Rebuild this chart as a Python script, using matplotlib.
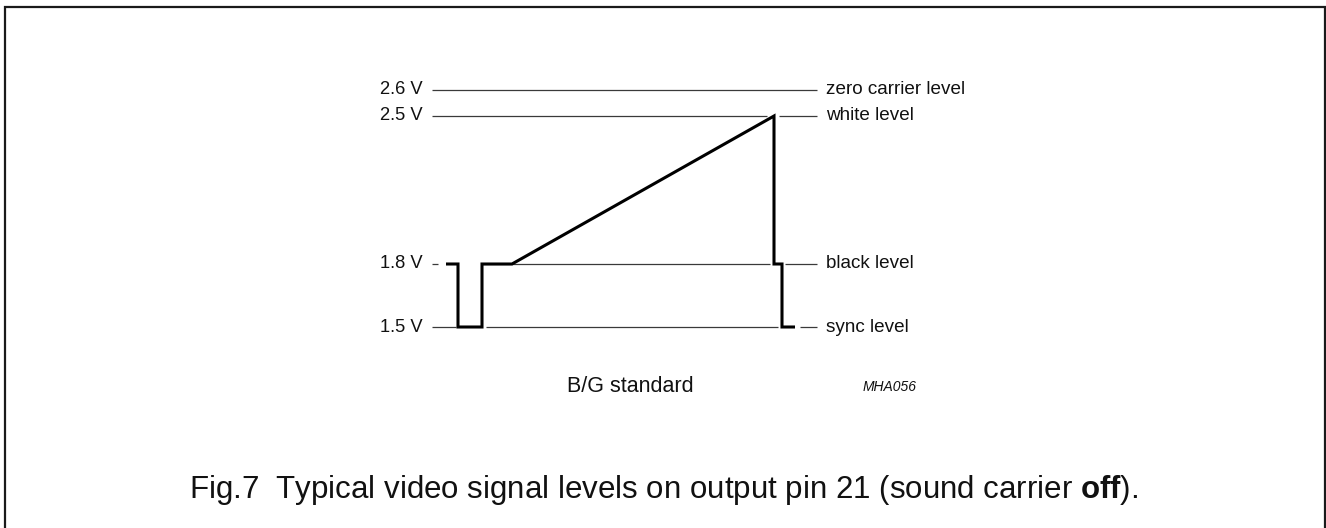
import numpy as np
import matplotlib
matplotlib.use("Agg")
import matplotlib.pyplot as plt
from matplotlib.patches import Rectangle

plt.rcParams['font.family'] = ['Liberation Sans', 'DejaVu Sans']
plt.rcParams['mathtext.fontset'] = 'custom'
plt.rcParams['mathtext.rm'] = 'Liberation Sans'
plt.rcParams['mathtext.bf'] = 'Liberation Sans:bold'

# ---- data ----
level_volts = [1.5, 1.8, 2.5, 2.6]
level_left_labels = ["1.5 V", "1.8 V", "2.5 V", "2.6 V"]
level_right_labels = ["sync level", "black level", "white level", "zero carrier level"]
# visible pieces of each reference line (time units, 0..385)
level_segments = {
    2.6: [(0, 385)],
    2.5: [(0, 335), (347, 385)],
    1.8: [(0, 6), (49, 338), (353, 385)],
    1.5: [(0, 24), (54, 346), (368, 385)],
}
# waveform (time, volts)
wave_t = [14, 26, 26, 50, 50, 80, 342, 342, 350, 350, 363]
wave_v = [1.8, 1.8, 1.5, 1.5, 1.8, 1.8, 2.5, 1.8, 1.8, 1.5, 1.5]

# schematic (non-linear) vertical spacing of the drawing
scale_volts = [1.5, 1.8, 2.5, 2.6]
scale_pos = [0.0, 63.0, 211.0, 237.0]

W, H = 1326, 528
fig = plt.figure(figsize=(W / 100, H / 100), dpi=100)

# border (open at the bottom: continues beyond the image)
fig.patches.append(Rectangle((4.5 / W, -0.05), (1324.5 - 4.5) / W, (H - 7) / H + 0.05,
                             transform=fig.transFigure, fill=False,
                             edgecolor='#1a1a1a', linewidth=1.6))

ax_left, ax_right = 432, 817
ax_top, ax_bot = 90, 327
ax = fig.add_axes([ax_left / W, (H - ax_bot) / H, (ax_right - ax_left) / W, (ax_bot - ax_top) / H])
ax.set_xlim(0, 385)

def fwd(v):
    return np.interp(v, scale_volts, scale_pos)

def inv(p):
    return np.interp(p, scale_pos, scale_volts)

ax.set_yscale('function', functions=(fwd, inv))
ax.set_ylim(1.5, 2.6)
ax.axis('off')

for v, segs in level_segments.items():
    for (a, b) in segs:
        ax.plot([a, b], [v, v], color='#3a3a3a', linewidth=0.9, clip_on=False,
                solid_capstyle='butt')

ax.plot(wave_t, wave_v, color='black', linewidth=2.2, clip_on=False,
        solid_joinstyle='miter', solid_capstyle='butt')

for v, lt, rt in zip(level_volts, level_left_labels, level_right_labels):
    ax.annotate(lt, xy=(0, v), xytext=(-6.5, 0), textcoords='offset points',
                ha='right', va='center', fontsize=13.2, color='#111111')
    ax.annotate(rt, xy=(385, v), xytext=(6.5, 0), textcoords='offset points',
                ha='left', va='center', fontsize=13.6, color='#111111')

fig.text(630 / W, 1 - 387 / H, "B/G standard", ha='center', va='center', fontsize=15.5, color='#111111')
fig.text(890 / W, 1 - 387 / H, "MHA056", ha='center', va='center', fontsize=10, style='italic', color='#111111')

fig.text(664 / W, 1 - 490 / H,
         r"Fig.7  Typical video signal levels on output pin 21 (sound carrier $\mathbf{off}$).",
         ha='center', va='center', fontsize=22.5, color='#111111')

fig.savefig("out.png", dpi=100)
